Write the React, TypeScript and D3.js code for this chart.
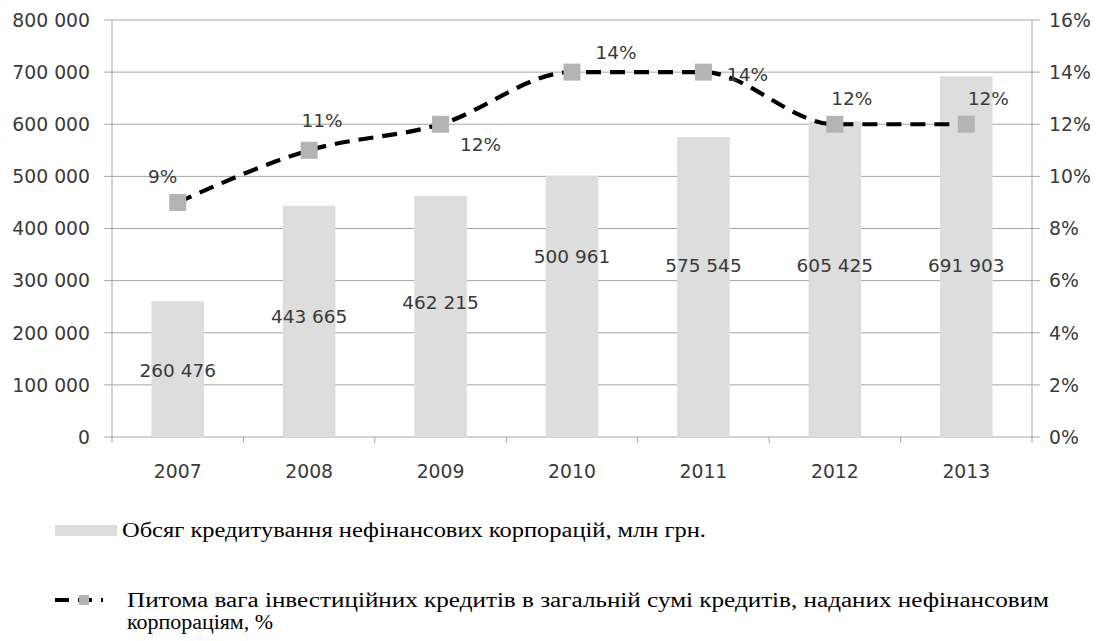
import React from "react";
import * as d3 from "d3";

const years = ["2007", "2008", "2009", "2010", "2011", "2012", "2013"];
const creditVolume = [260476, 443665, 462215, 500961, 575545, 605425, 691903];
const investShare = [9, 11, 12, 14, 14, 12, 12];
const leftTicks = [0, 100000, 200000, 300000, 400000, 500000, 600000, 700000, 800000];
const rightTicks = [0, 2, 4, 6, 8, 10, 12, 14, 16];
// label anchors (in left-axis units) for bar value labels
const barLabelAt = [127000, 232000, 259000, 347000, 330000, 330000, 330000];
// label offsets relative to markers
const lineLabelDx = [-15, 13, 40, 44, 44, 17, 22];
const lineLabelDy = [-26, -30, 20, -20, 2, -26, -26];
const legendBar = "Обсяг кредитування нефінансових корпорацій, млн грн.";
const legendLine1 = "Питома вага інвестиційних кредитів в загальній сумі кредитів, наданих нефінансовим";
const legendLine2 = "корпораціям, %";

const W = 1105, H = 641;
const M = { left: 112, right: 1032, top: 20, bottom: 437 };

const fmt = (v: number) => d3.format(",")(v).replace(/,/g, " ");

export default function App() {
  const x = d3.scaleBand<string>().domain(years).range([M.left, M.right]).paddingInner(0.6).paddingOuter(0.3);
  const step = x.step();
  const yL = d3.scaleLinear().domain([0, 800000]).range([M.bottom, M.top]);
  const yR = d3.scaleLinear().domain([0, 16]).range([M.bottom, M.top]);
  const cx = (y: string) => (x(y) as number) + x.bandwidth() / 2;

  const line = d3
    .line<number>()
    .x((_, i) => cx(years[i]))
    .y((d) => yR(d))
    .curve(d3.curveMonotoneX);

  const sans = "'DejaVu Sans', Verdana, sans-serif";
  const serif = "'Liberation Serif', 'Times New Roman', serif";
  const txt = "#3a3a3a";
  const grid = "#a6a6a6";
  const ms = 17;

  return (
    <svg width={W} height={H} style={{ position: "absolute", left: 0, top: 0, background: "#fff" }}>
      {/* gridlines */}
      {leftTicks.map((t) => (
        <line key={"g" + t} x1={M.left - 8} x2={M.right + 8} y1={yL(t)} y2={yL(t)} stroke={grid} strokeWidth={1} />
      ))}
      {/* axes */}
      <line x1={M.left} x2={M.left} y1={M.top} y2={M.bottom} stroke={grid} />
      <line x1={M.right} x2={M.right} y1={M.top} y2={M.bottom} stroke={grid} />
      {d3.range(years.length + 1).map((i) => (
        <line key={"xt" + i} x1={M.left + i * step} x2={M.left + i * step} y1={M.bottom} y2={M.bottom + 6} stroke={grid} />
      ))}
      {/* bars */}
      {creditVolume.map((v, i) => (
        <rect key={"b" + i} x={x(years[i])} y={yL(v)} width={x.bandwidth()} height={M.bottom - yL(v)} fill="#dddddd" />
      ))}
      {/* left tick labels */}
      {leftTicks.map((t) => (
        <text key={"lt" + t} x={90} y={yL(t)} dy="0.36em" textAnchor="end" fontFamily={sans} fontSize={18.8} fill={txt}>
          {fmt(t)}
        </text>
      ))}
      {/* right tick labels */}
      {rightTicks.map((t) => (
        <text key={"rt" + t} x={1049} y={yR(t)} dy="0.36em" textAnchor="start" fontFamily={sans} fontSize={18.8} fill={txt}>
          {t + "%"}
        </text>
      ))}
      {/* category labels */}
      {years.map((yv) => (
        <text key={"c" + yv} x={cx(yv)} y={471} dy="0.36em" textAnchor="middle" fontFamily={sans} fontSize={18.8} fill={txt}>
          {yv}
        </text>
      ))}
      {/* bar value labels */}
      {creditVolume.map((v, i) => (
        <text key={"bl" + i} x={cx(years[i])} y={yL(barLabelAt[i])} dy="0.36em" textAnchor="middle" fontFamily={sans} fontSize={18.5} fill={txt}>
          {fmt(v)}
        </text>
      ))}
      {/* line */}
      <path d={line(investShare) || ""} fill="none" stroke="#000" strokeWidth={4.2} strokeDasharray="15 9" />
      {investShare.map((v, i) => (
        <rect key={"m" + i} x={cx(years[i]) - ms / 2} y={yR(v) - ms / 2} width={ms} height={ms} fill="#b4b4b4" />
      ))}
      {investShare.map((v, i) => (
        <text key={"ll" + i} x={cx(years[i]) + lineLabelDx[i]} y={yR(v) + lineLabelDy[i]} dy="0.36em" textAnchor="middle" fontFamily={sans} fontSize={18.5} fill={txt}>
          {v + "%"}
        </text>
      ))}
      {/* legend */}
      <rect x={55} y={525} width={62} height={11} fill="#dddddd" />
      <text x={122} y={537} fontFamily={serif} fontSize={20} fill="#000" textLength={584} lengthAdjust="spacingAndGlyphs">
        {legendBar}
      </text>
      <line x1={55} x2={103} y1={600} y2={600} stroke="#000" strokeWidth={4.2} strokeDasharray="14 9" />
      <rect x={79} y={595} width={10} height={10} fill="#b4b4b4" />
      <text x={127} y={607} fontFamily={serif} fontSize={20} fill="#000" textLength={922} lengthAdjust="spacingAndGlyphs">
        {legendLine1}
      </text>
      <text x={127} y={629} fontFamily={serif} fontSize={20} fill="#000" textLength={146} lengthAdjust="spacingAndGlyphs">
        {legendLine2}
      </text>
    </svg>
  );
}
